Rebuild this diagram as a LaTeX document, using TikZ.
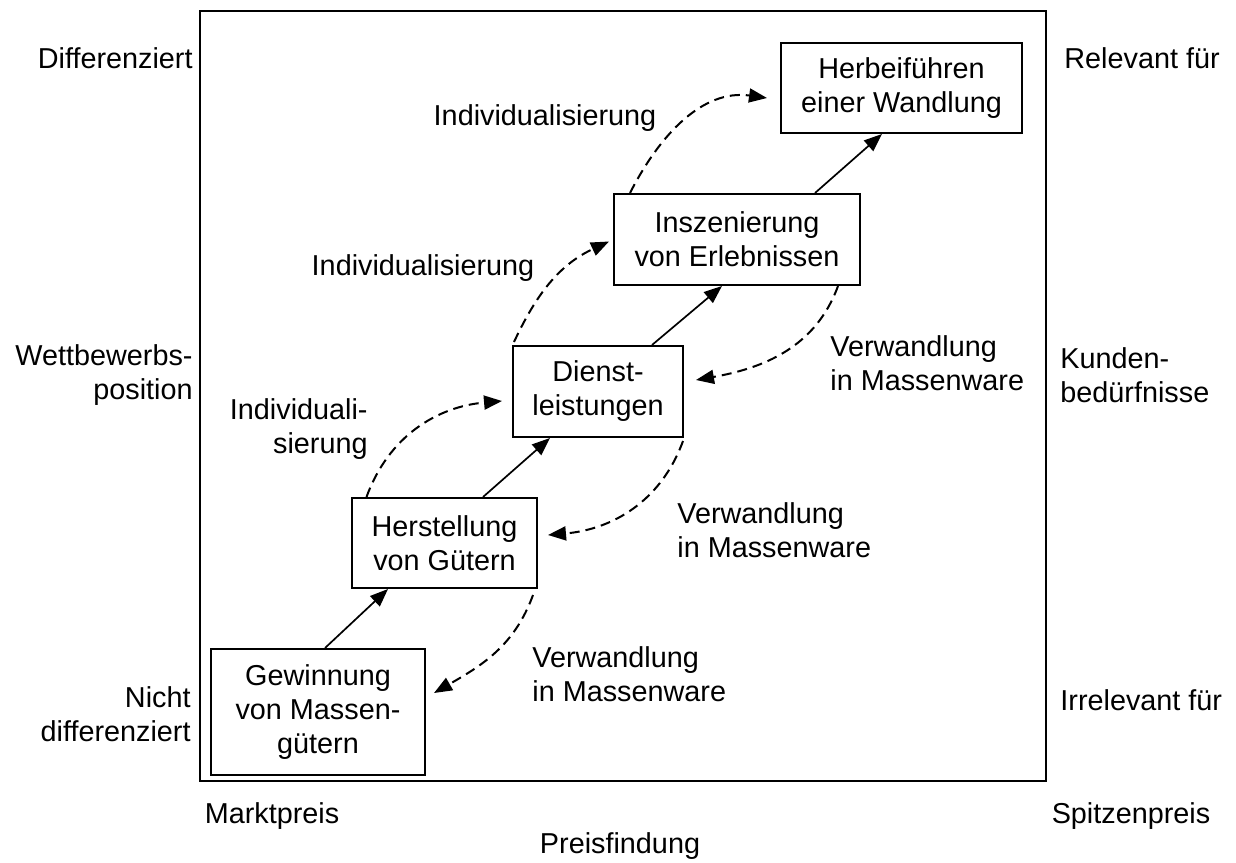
\documentclass[tikz,border=0pt]{standalone}
\usepackage{fontspec}
\setmainfont{Liberation Sans}
\usetikzlibrary{arrows.meta}
\tikzset{
  stage/.style={draw,line width=1pt,align=center,inner sep=0pt},
  lbl/.style={inner sep=0pt},
  arr/.style={-{Triangle[length=9pt,width=7pt]},line width=0.85pt},
  darr/.style={arr,line width=1pt,dash pattern=on 5pt off 3pt}
}

\begin{document}
\begin{tikzpicture}[x=0.5pt,y=-0.5pt,font=\fontsize{14.4}{17}\selectfont]
    \useasboundingbox (0,0) rectangle (1236,862);
    \draw[line width=1pt] (200,11) rectangle (1046,781);
    % Stufen
    \node[stage,minimum width=107pt,minimum height=63pt] (gew) at (318,712) {Gewinnung\\von Massen-\\gütern};
    \node[stage,minimum width=92.5pt,minimum height=45pt] (her) at (444.5,543) {Herstellung\\von Gütern};
    \node[stage,minimum width=85pt,minimum height=45.5pt] (dl) at (598,391.5) {Dienst-\\leistungen};
    \node[stage,minimum width=123pt,minimum height=45.5pt] (ins) at (737,239.5) {Inszenierung\\von Erlebnissen};
    \node[stage,minimum width=120.5pt,minimum height=45pt] (herb) at (901.5,88) {Herbeiführen\\einer Wandlung};
    \draw[arr] ([xshift=3.5pt]gew.north) -- ([xshift=-28.25pt]her.south);
    \draw[arr] ([xshift=19.25pt]her.north) -- ([xshift=-24pt]dl.south);
    \draw[arr] ([xshift=27pt]dl.north) -- ([xshift=-7.5pt]ins.south);
    \draw[arr] ([xshift=39pt]ins.north) -- ([xshift=-9.75pt]herb.south);
    % Individualisierung
    \draw[darr] ([xshift=-39pt]her.north) to[out=70,in=185] ([xshift=-5pt,yshift=-4.75pt]dl.west);
    \draw[darr] ([xshift=-42pt,yshift=1.5pt]dl.north) to[out=65,in=205] ([xshift=-2pt,yshift=-1pt]ins.west);
    \draw[darr] ([xshift=-53.5pt]ins.north) to[out=63,in=172] ([xshift=-6.5pt,yshift=-5pt]herb.west);
    \node[lbl,anchor=east,align=right] (ind1) at (368,429) {Individuali-\\sierung};
    \node[lbl] (ind2) at (423,268) {Individualisierung};
    \node[lbl] (ind3) at (545,118) {Individualisierung};
    % Verwandlung in Massenware
    \draw[darr] ([xshift=-2.5pt,yshift=-3pt]her.south east) to[out=250,in=30] ([xshift=4pt,yshift=9.5pt]gew.east);
    \draw[darr] ([xshift=-0.5pt,yshift=-1.5pt]dl.south east) to[out=250,in=5] ([xshift=5pt,yshift=4pt]her.east);
    \draw[darr] ([xshift=-11.5pt]ins.south east) to[out=250,in=10] ([xshift=6pt,yshift=5.75pt]dl.east);
    \node[lbl,anchor=west,align=left] (ver1) at (532,674) {Verwandlung\\in Massenware};
    \node[lbl,anchor=west,align=left] (ver2) at (677,530) {Verwandlung\\in Massenware};
    \node[lbl,anchor=west,align=left] (ver3) at (830,363) {Verwandlung\\in Massenware};
    % Achsen
    \node[lbl,anchor=east] (diff) at (193,58) {Differenziert};
    \node[lbl,anchor=east,align=right] (wett) at (193,375) {Wettbewerbs-\\position};
    \node[lbl,anchor=east,align=right] (ndiff) at (191,714) {Nicht\\differenziert};
    \node[lbl,anchor=west] (rel) at (1064,58) {Relevant für};
    \node[lbl,anchor=west,align=left] (kund) at (1060,375) {Kunden-\\bedürfnisse};
    \node[lbl,anchor=west] (irrel) at (1060,700) {Irrelevant für};
    \node[lbl] (markt) at (272,816) {Marktpreis};
    \node[lbl] (spitze) at (1131,816) {Spitzenpreis};
    \node[lbl] (preis) at (620,846) {Preisfindung};
\end{tikzpicture}
\end{document}
